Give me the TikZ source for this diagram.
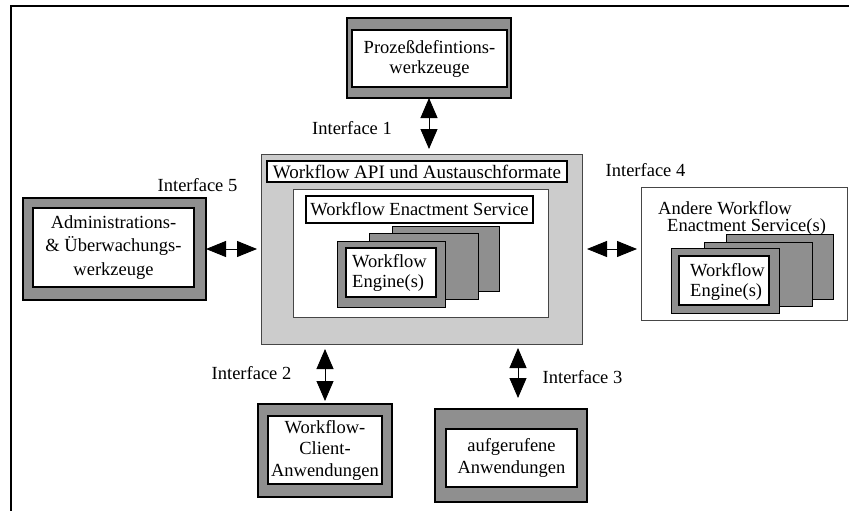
\documentclass[tikz,border=0pt]{standalone}
\usepackage{fontspec}
\setmainfont{Liberation Serif}
\usetikzlibrary{arrows.meta}
\definecolor{dgray}{RGB}{143,143,143}
\definecolor{lgray}{RGB}{204,204,204}
\definecolor{edgegray}{RGB}{70,70,70}
\newcommand\myfs[1]{\fontsize{18.5}{#1}\selectfont}
\begin{document}
\begin{tikzpicture}[x=1pt,y=-1pt,
  box/.style={rectangle, inner sep=0pt, outer sep=0pt},
  shellbox/.style={box, fill=dgray, draw=black, line width=1.3pt},
  paperbox/.style={box, fill=white, draw=black, line width=1.1pt, align=center},
  cardbox/.style={box, fill=dgray, draw=black, line width=0.9pt},
  lbl/.style={inner sep=0pt, font=\myfs{22}},
  engtext/.style={inner sep=0pt, align=left, font=\myfs{20}},
  dblarrow/.style={{Triangle[length=20pt,width=17pt]}-{Triangle[length=20pt,width=17pt]}, line width=0.9pt},
  harrow/.style={{Triangle[length=20pt,width=16pt]}-{Triangle[length=20pt,width=16pt]}, line width=0.9pt}
]
\useasboundingbox (0,0) rectangle (849,511);
% frame
\draw[line width=2.3pt] (11,511) |- (849,6.2);

% top box
\node[shellbox, minimum width=164pt, minimum height=80pt] (topOuter) at (429,58) {};
\node[paperbox, minimum width=155pt, minimum height=57pt, font=\myfs{20}] (topInner) at (429.5,58.5) {Prozeßdefintions-\\werkzeuge};

% center box
\node[box, fill=lgray, draw=edgegray, line width=0.9pt, minimum width=321pt, minimum height=190pt] (center) at (421.5,249) {};
\node[paperbox, minimum width=300pt, minimum height=21pt, font=\fontsize{19}{21}\selectfont] (api) at (417,171.5) {Workflow API und Austauschformate};
\node[box, fill=white, draw=edgegray, line width=0.8pt, minimum width=255pt, minimum height=128pt] (wes) at (420.5,253) {};
\node[paperbox, minimum width=227pt, minimum height=27pt, font=\myfs{21}] (wesLabel) at (419.5,209.5) {Workflow Enactment Service};
\node[cardbox, minimum width=107pt, minimum height=65pt] (engBack) at (445.5,258.5) {};
\node[cardbox, minimum width=109pt, minimum height=66pt] (engMid) at (423.5,266) {};
\node[shellbox, line width=1pt, minimum width=108pt, minimum height=66pt] (engFront) at (391,274) {};
\node[paperbox, minimum width=90pt, minimum height=49pt] (engInner) at (391,272.5) {};
\node[engtext, anchor=west] (engText) at (352,272.5) {Workflow\\Engine(s)};

% left box
\node[shellbox, minimum width=183pt, minimum height=102pt] (leftOuter) at (114.5,249) {};
\node[paperbox, minimum width=161pt, minimum height=79pt, font=\myfs{23.5}] (leftInner) at (113.5,247.5) {Administrations-\\\&~Überwachungs-\\werkzeuge};

% right box
\node[box, fill=white, draw=edgegray, line width=0.9pt, minimum width=206pt, minimum height=133pt] (andere) at (744,253.5) {};
\node[engtext, font=\myfs{17.5}, anchor=west] (andereLabel) at (658,218.5) {Andere Workflow\\\hspace*{9pt}Enactment Service(s)};
\node[cardbox, minimum width=107pt, minimum height=65pt] (rBack) at (779.5,266.5) {};
\node[cardbox, minimum width=108pt, minimum height=64pt] (rMid) at (758,274) {};
\node[shellbox, line width=1pt, minimum width=108pt, minimum height=65pt] (rFront) at (725,280.5) {};
\node[paperbox, minimum width=90pt, minimum height=49pt] (rInner) at (724,280.5) {};
\node[engtext, anchor=west] (rText) at (690,282) {Workflow\\Engine(s)};

% bottom boxes
\node[shellbox, minimum width=134pt, minimum height=93pt] (clOuter) at (325,450.5) {};
\node[paperbox, minimum width=114pt, minimum height=68pt, font=\myfs{21.5}] (clInner) at (325,450) {Workflow-\\Client-\\Anwendungen};
\node[shellbox, minimum width=152pt, minimum height=93pt] (arOuter) at (511,455.5) {};
\node[paperbox, minimum width=131pt, minimum height=58pt, font=\myfs{22}] (arInner) at (511.5,458) {aufgerufene\\Anwendungen};

% interface labels
\node[lbl] (if1) at (352,128) {Interface 1};
\node[lbl] (if2) at (251.5,373) {Interface 2};
\node[lbl] (if3) at (582.5,377) {Interface 3};
\node[lbl] (if4) at (645.5,170) {Interface 4};
\node[lbl] (if5) at (197.5,185) {Interface 5};

% connectors
\draw[dblarrow, shorten >=5pt] (topOuter.south) -- (topOuter.south |- center.north);
\draw[harrow, shorten >=4pt] (leftOuter.east) -- (center.west);
\draw[harrow, shorten <=5pt, shorten >=4pt] (center.east) -- (center.east -| andere.west);
\draw[dblarrow, shorten <=5pt, shorten >=3pt] (center.south -| clOuter.north) -- (clOuter.north);
\draw[dblarrow, shorten <=4pt, shorten >=11pt] ([xshift=7pt]arOuter.north |- center.south) -- ([xshift=7pt]arOuter.north);
\end{tikzpicture}
\end{document}
